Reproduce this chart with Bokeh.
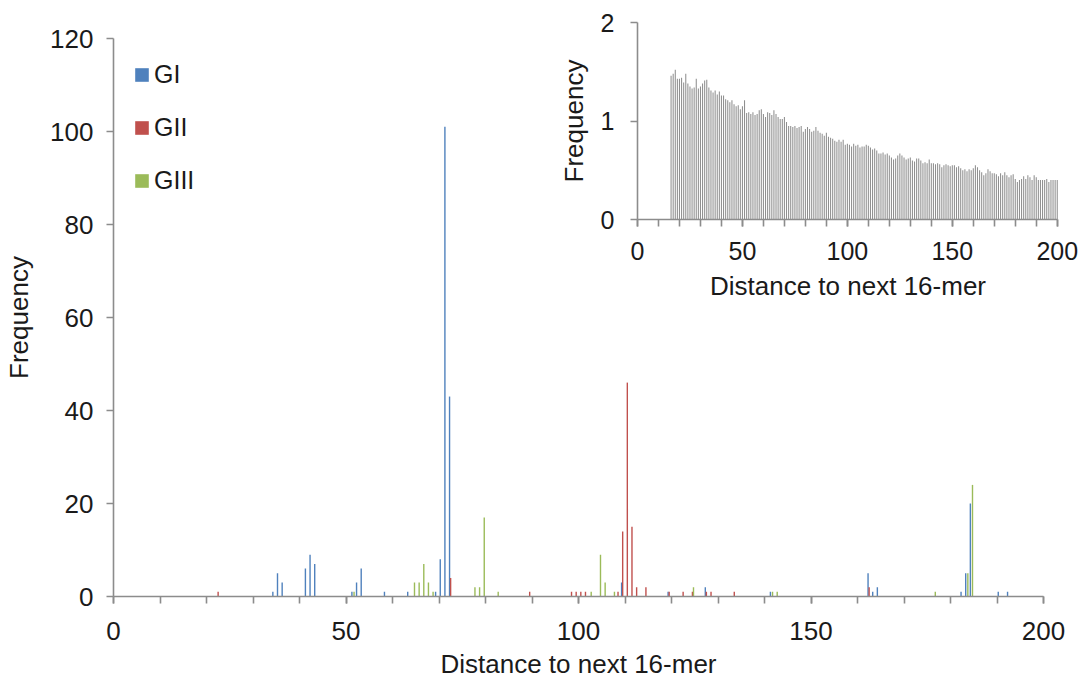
from bokeh.plotting import figure
from bokeh.models import FixedTicker, Legend, LegendItem, Range1d
from bokeh.layouts import column
from bokeh.embed import file_html
from bokeh.resources import INLINE

FONT = "Liberation Sans"
TEXT = "#1a1a1a"
AXIS = "#8c8c8c"

# ---------------- main chart data ----------------
gi_dist = [34, 35, 36, 41, 42, 43, 51, 52, 53, 58, 63, 69, 70, 71, 72, 109, 119, 127,
           141, 162, 163, 164, 182, 183, 184, 190, 192]
gi_freq = [1, 5, 3, 6, 9, 7, 1, 3, 6, 1, 1, 1, 8, 101, 43, 3, 1, 2,
           1, 5, 1, 2, 1, 5, 20, 1, 1]
gii_dist = [22, 72, 89, 98, 99, 100, 101, 108, 109, 110, 111, 112, 114, 119, 122, 124,
            127, 128, 133, 162]
gii_freq = [1, 4, 1, 1, 1, 1, 1, 1, 14, 46, 15, 2, 2, 1, 1, 1,
            1, 1, 1, 2]
giii_dist = [51, 64, 65, 66, 67, 68, 77, 78, 79, 82, 102, 104, 105, 107, 124, 141, 142,
             176, 183, 184]
giii_freq = [1, 3, 3, 7, 3, 1, 2, 2, 17, 1, 1, 9, 3, 1, 2, 1, 1,
             1, 5, 24]
series_names = ["GI", "GII", "GIII"]
series_colors = ["#4F81BD", "#C0504D", "#9BBB59"]

main_x_ticks = [0, 50, 100, 150, 200]
main_y_ticks = [0, 20, 40, 60, 80, 100, 120]

# ---------------- inset data ----------------
inset_start = 16
inset_freq = [
    1.46, 1.48, 1.52, 1.43, 1.43, 1.44, 1.39, 1.48, 1.38, 1.35,
    1.33, 1.34, 1.43, 1.33, 1.35, 1.38, 1.41, 1.42, 1.34, 1.31,
    1.29, 1.31, 1.27, 1.30, 1.26, 1.26, 1.22, 1.21, 1.19, 1.21,
    1.17, 1.15, 1.16, 1.12, 1.15, 1.21, 1.08, 1.09, 1.07, 1.09,
    1.06, 1.07, 1.11, 1.12, 1.07, 1.04, 1.09, 1.08, 1.06, 1.11,
    1.07, 1.04, 1.02, 1.02, 1.04, 0.99, 0.95, 0.95, 0.94, 0.95,
    0.93, 0.94, 0.95, 0.89, 0.92, 0.94, 0.92, 0.89, 0.90, 0.94,
    0.90, 0.88, 0.87, 0.85, 0.88, 0.84, 0.83, 0.82, 0.80, 0.79,
    0.81, 0.79, 0.81, 0.76, 0.77, 0.76, 0.74, 0.77, 0.75, 0.76,
    0.73, 0.74, 0.74, 0.76, 0.75, 0.73, 0.71, 0.72, 0.70, 0.67,
    0.67, 0.68, 0.66, 0.67, 0.65, 0.63, 0.61, 0.62, 0.65, 0.67,
    0.65, 0.63, 0.61, 0.62, 0.63, 0.60, 0.59, 0.62, 0.62, 0.60,
    0.57, 0.58, 0.57, 0.61, 0.57, 0.57, 0.56, 0.57, 0.56, 0.53,
    0.55, 0.56, 0.55, 0.54, 0.55, 0.55, 0.53, 0.54, 0.52, 0.50,
    0.51, 0.49, 0.51, 0.50, 0.52, 0.55, 0.53, 0.50, 0.48, 0.45,
    0.47, 0.51, 0.49, 0.47, 0.47, 0.46, 0.44, 0.47, 0.45, 0.48,
    0.45, 0.43, 0.45, 0.46, 0.41, 0.38, 0.40, 0.41, 0.44, 0.41,
    0.45, 0.43, 0.40, 0.45, 0.43, 0.40, 0.40, 0.40, 0.40, 0.41,
    0.38, 0.40, 0.40, 0.40, 0.40,
]
inset_dist = list(range(inset_start, inset_start + len(inset_freq)))
inset_x_ticks = [0, 50, 100, 150, 200]
inset_y_ticks = [0, 1, 2]
minor_step_ticks = list(range(0, 201, 10))


def style_axes(fig, tick_size, title_size):
    for ax in (fig.xaxis[0], fig.yaxis[0]):
        ax.axis_line_color = AXIS
        ax.axis_line_width = 1.6
        ax.major_tick_line_color = AXIS
        ax.major_tick_line_width = 1.6
        ax.minor_tick_line_color = AXIS
        ax.minor_tick_line_width = 1.6
        ax.major_tick_in = 0
        ax.major_tick_out = 7
        ax.minor_tick_in = 0
        ax.minor_tick_out = 7
        ax.major_label_text_font = FONT
        ax.major_label_text_font_size = tick_size
        ax.major_label_text_color = TEXT
        ax.axis_label_text_font = FONT
        ax.axis_label_text_font_size = title_size
        ax.axis_label_text_color = TEXT
        ax.axis_label_text_font_style = "normal"
    fig.xgrid.visible = False
    fig.ygrid.visible = False
    fig.outline_line_color = None


# ---------------- main figure ----------------
p = figure(width=1073, height=681, output_backend="svg", toolbar_location=None,
           x_range=Range1d(0, 200), y_range=Range1d(0, 120),
           min_border_left=113, min_border_right=30, min_border_top=38,
           min_border_bottom=84,
           x_axis_label="Distance to next 16-mer", y_axis_label="Frequency")
style_axes(p, "26px", "26px")
p.xaxis.ticker = FixedTicker(ticks=main_x_ticks, minor_ticks=minor_step_ticks)
p.yaxis.ticker = FixedTicker(ticks=main_y_ticks, minor_ticks=[])
p.xaxis.major_label_standoff = 18
p.xaxis.axis_label_standoff = 6
p.yaxis.major_label_standoff = 13
p.yaxis.axis_label_standoff = 13

offsets = [0.27, 0.5, 0.73]
bar_w = 0.3
renderers = []
for dist, freq, off, col in zip([gi_dist, gii_dist, giii_dist],
                                [gi_freq, gii_freq, giii_freq],
                                offsets, series_colors):
    r = p.vbar(x=[d + off for d in dist], top=freq, bottom=0, width=bar_w,
               fill_color=col, line_color=None)
    renderers.append(r)

legend = Legend(items=[LegendItem(label=n, renderers=[r]) for n, r in zip(series_names, renderers)],
                location=(20, 401), orientation="vertical",
                glyph_width=17, glyph_height=17, label_height=30, spacing=23,
                label_standoff=4, padding=0, margin=0,
                label_text_font=FONT, label_text_font_size="25px", label_text_color=TEXT,
                border_line_color=None, background_fill_alpha=0)
p.add_layout(legend)

# ---------------- inset figure ----------------
# (column aligns the left/right borders of its children with the main figure)
q = figure(width=564, height=315, output_backend="svg", toolbar_location=None,
           x_range=Range1d(0, 200.6), y_range=Range1d(0, 2),
           min_border_left=113, min_border_right=30, min_border_top=22,
           min_border_bottom=96,
           x_axis_label="Distance to next 16-mer", y_axis_label="Frequency")
style_axes(q, "25px", "26px")
q.xaxis.ticker = FixedTicker(ticks=inset_x_ticks, minor_ticks=minor_step_ticks)
q.yaxis.ticker = FixedTicker(ticks=inset_y_ticks, minor_ticks=[])
q.xaxis.bounds = (0, 200)
q.xaxis.major_label_standoff = 15
q.xaxis.axis_label_standoff = 8
q.yaxis.major_label_standoff = 16
q.yaxis.axis_label_standoff = 9
q.background_fill_alpha = 0
q.border_fill_alpha = 0
q.vbar(x=inset_dist, top=inset_freq, bottom=0, width=0.5,
       fill_color="#8f8f8f", line_color=None)
q.styles = {"position": "absolute", "left": "524px", "top": "0px", "z-index": "2"}

layout = column(p, q)
open("out.html", "w").write(file_html(layout, INLINE))
